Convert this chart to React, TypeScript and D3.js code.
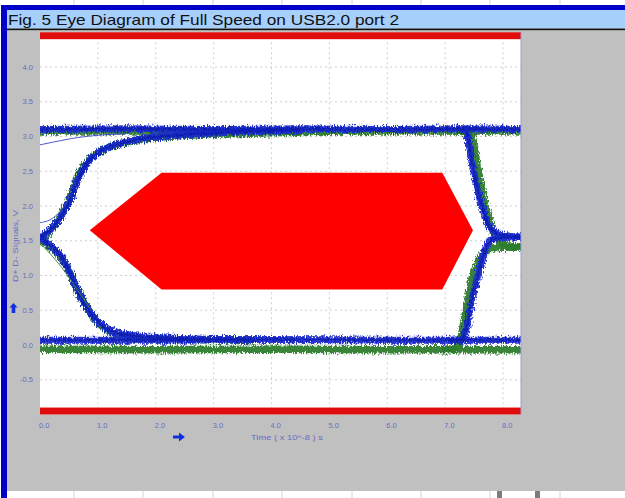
import React from 'react';
import * as d3 from 'd3';

type P = [number, number];

// Axis ticks
const xTicks = [0, 1, 2, 3, 4, 5, 6, 7, 8];
const xTickLabels = ['0.0', '1.0', '2.0', '3.0', '4.0', '5.0', '6.0', '7.0', '8.0'];
const yTicks = [-0.5, 0, 0.5, 1, 1.5, 2, 2.5, 3, 3.5, 4];
const yTickLabels = ['-0.5', '0.0', '0.5', '1.0', '1.5', '2.0', '2.5', '3.0', '3.5', '4.0'];

// Eye mask (time x1e-8 s, volts)
const maskPoints: P[] = [[0.86, 1.65], [2.1, 2.48], [6.95, 2.48], [7.48, 1.65], [6.95, 0.8], [2.1, 0.8]];
// Limit bands (volts)
const limitBands: P[] = [[4.4, 4.5], [-1.0, -0.9]];

// Green traces
const greenTop: P[] = [[0, 3.08], [2, 3.08], [4, 3.07], [6, 3.08], [8.31, 3.08]];
const greenBottom: P[] = [[0, -0.06], [2, -0.07], [4, -0.06], [6, -0.07], [8.31, -0.07]];
const greenRiseLeft: P[] = [[0, 1.5], [0.15, 1.62], [0.33, 1.82], [0.5, 2.08], [0.67, 2.45], [0.84, 2.66], [1.07, 2.8], [1.41, 2.9], [1.83, 2.97], [2.4, 3.01], [3.26, 3.04], [4.47, 3.06]];
const greenFallLeft: P[] = [[0, 1.5], [0.19, 1.4], [0.37, 1.25], [0.5, 1.07], [0.62, 0.84], [0.76, 0.61], [0.93, 0.39], [1.14, 0.23], [1.38, 0.14], [1.84, 0.1], [2.62, 0.08], [3.66, 0.07]];
const greenFallRight: P[] = [[7.2, 3.08], [7.43, 3.07], [7.48, 2.95], [7.55, 2.59], [7.62, 2.3], [7.69, 2.01], [7.76, 1.8], [7.85, 1.58], [7.98, 1.47], [8.15, 1.42], [8.31, 1.41]];
const greenRiseRight: P[] = [[7.0, -0.06], [7.17, -0.05], [7.26, 0.07], [7.36, 0.5], [7.46, 0.94], [7.57, 1.19], [7.69, 1.34], [7.86, 1.4], [8.31, 1.41]];

// Blue traces
const blueTop: P[] = [[0, 3.1], [1.5, 3.11], [3, 3.1], [4.5, 3.11], [6, 3.1], [7.3, 3.11], [8.31, 3.1]];
const blueBottom: P[] = [[0, 0.07], [2, 0.07], [4, 0.08], [6, 0.07], [8.31, 0.07]];
const blueRiseLeft: P[] = [[0, 1.55], [0.17, 1.65], [0.35, 1.83], [0.52, 2.09], [0.69, 2.45], [0.86, 2.66], [1.09, 2.81], [1.43, 2.91], [1.85, 2.98], [2.42, 3.02], [3.28, 3.06], [4.49, 3.09]];
const blueFallLeft: P[] = [[0, 1.54], [0.17, 1.44], [0.35, 1.29], [0.48, 1.11], [0.6, 0.88], [0.73, 0.65], [0.9, 0.43], [1.11, 0.26], [1.35, 0.17], [1.81, 0.12], [2.59, 0.09], [3.63, 0.07]];
const blueFallRight: P[] = [[7.2, 3.1], [7.35, 3.1], [7.4, 2.95], [7.47, 2.59], [7.54, 2.3], [7.6, 2.09], [7.67, 1.91], [7.74, 1.73], [7.85, 1.63], [8.0, 1.58], [8.31, 1.55]];
const blueRiseRight: P[] = [[7.1, 0.07], [7.29, 0.08], [7.36, 0.22], [7.46, 0.65], [7.55, 0.94], [7.64, 1.22], [7.72, 1.44], [7.86, 1.53], [8.07, 1.55], [8.31, 1.55]];

// Thin single sweeps
const thinBlueA: P[] = [[0, 2.88], [0.35, 2.94], [0.69, 2.99], [1.04, 3.02], [1.5, 3.04]];
const thinBlueB: P[] = [[0, 1.76], [0.17, 1.8], [0.29, 1.87], [0.4, 1.97], [0.48, 2.09]];
const thinGreenA: P[] = [[0.03, 1.44], [0.21, 1.28], [0.38, 1.11], [0.55, 0.91], [0.73, 0.69], [0.86, 0.53]];

const sheetCols = [74, 143, 213, 282, 352, 421, 490, 560];

export default function App() {
  const W = 625, H = 498;
  const x = d3.scaleLinear().domain([0, 8.31]).range([40, 521]);
  const y = d3.scaleLinear().domain([-1, 4.5]).range([414.5, 32.25]);
  const line = d3.line<P>().x(d => x(d[0])).y(d => y(d[1])).curve(d3.curveMonotoneX);
  const poly = d3.line<P>().x(d => x(d[0])).y(d => y(d[1])).curve(d3.curveLinearClosed);

  const plotTop = y(4.5), plotBottom = y(-1);
  const greenThick = [greenTop, greenBottom, greenRiseLeft, greenFallLeft, greenFallRight, greenRiseRight];
  const blueThick = [blueTop, blueBottom, blueRiseLeft, blueFallLeft, blueFallRight, blueRiseRight];
  const tickColor = '#6c6cc4';
  const font = 'Liberation Sans, Arial, sans-serif';

  return (
    <div style={{ position: 'fixed', left: 0, top: 0 }}>
      <svg width={W} height={H} style={{ display: 'block' }}>
        <defs>
          <filter id="noise" filterUnits="userSpaceOnUse" x="0" y="0" width={W} height={H}>
            <feTurbulence type="fractalNoise" baseFrequency="0.9 0.35" numOctaves="2" seed="4" result="t" />
            <feDisplacementMap in="SourceGraphic" in2="t" scale="7" xChannelSelector="R" yChannelSelector="G" result="d" />
            <feGaussianBlur in="d" stdDeviation="0.4" />
          </filter>
          <clipPath id="plotClip">
            <rect x={40} y={plotTop} width={481} height={plotBottom - plotTop} />
          </clipPath>
        </defs>
        {/* spreadsheet background */}
        <rect x={0} y={0} width={W} height={H} fill="#ffffff" />
        {sheetCols.map(c => (
          <line key={'c' + c} x1={c} x2={c} y1={0} y2={H} stroke="#d4d4d4" strokeWidth={1} />
        ))}
        <rect x={1} y={5} width={6} height={H - 5} fill="#0000c8" />
        <rect x={1} y={5} width={W} height={5} fill="#0000c8" />
        <rect x={7} y={10} width={W - 7} height={18.5} fill="#a6cffc" />
        <rect x={7} y={28.5} width={W - 7} height={2} fill="#111111" />
        <text x={8} y={24.5} fontFamily={font} fontSize={15} fill="#111" textLength={391} lengthAdjust="spacingAndGlyphs">
          Fig. 5 Eye Diagram of Full Speed on USB2.0 port 2
        </text>
        <rect x={7} y={30.5} width={W - 7} height={460.5} fill="#c0c0c0" />
        <rect x={497} y={491} width={5} height={7} fill="#7c7c7c" />
        <rect x={535} y={491} width={5} height={7} fill="#7c7c7c" />

        {/* plot area */}
        <rect x={40} y={plotTop} width={481} height={plotBottom - plotTop} fill="#ffffff" />
        {xTicks.slice(1).map(t => (
          <line key={'gx' + t} x1={x(t)} x2={x(t)} y1={plotTop} y2={plotBottom} stroke="#c4c4c4" strokeWidth={0.8} strokeDasharray="2,3" />
        ))}
        {yTicks.map(v => (
          <line key={'gy' + v} x1={40} x2={521} y1={y(v)} y2={y(v)} stroke="#c4c4c4" strokeWidth={0.8} strokeDasharray="2,3" />
        ))}
        {limitBands.map((b, i) => (
          <rect key={'lb' + i} x={40} y={y(b[1])} width={481} height={y(b[0]) - y(b[1])} fill="#e00d0d" />
        ))}
        <path d={poly(maskPoints) || ''} fill="#ff0000" />

        <g clipPath="url(#plotClip)">
          <g filter="url(#noise)">
            {greenThick.map((d, i) => (
              <path key={'g' + i} d={line(d) || ''} fill="none" stroke="#2f7d2f" strokeWidth={7.5} strokeOpacity={0.95} strokeLinecap="round" />
            ))}
            {blueThick.map((d, i) => (
              <path key={'b' + i} d={line(d) || ''} fill="none" stroke="#1c2ccc" strokeWidth={7} strokeOpacity={0.95} strokeLinecap="round" />
            ))}
            {blueThick.map((d, i) => (
              <path key={'bc' + i} d={line(d) || ''} fill="none" stroke="#0a18a8" strokeWidth={2.5} strokeOpacity={0.7} />
            ))}
          </g>
          <path d={line(thinBlueA) || ''} fill="none" stroke="#3a48c8" strokeWidth={0.9} />
          <path d={line(thinBlueB) || ''} fill="none" stroke="#3a48c8" strokeWidth={0.9} />
          <path d={line(thinGreenA) || ''} fill="none" stroke="#3c8a3c" strokeWidth={0.9} />
        </g>
        <line x1={521} x2={521} y1={plotTop} y2={plotBottom} stroke="#9a9ae0" strokeWidth={1} />

        {/* y axis labels */}
        {yTicks.map((v, i) => (
          <text key={'yl' + v} x={33} y={y(v)} dy="0.35em" textAnchor="end" fontFamily={font} fontSize={7.5} fill={tickColor}>
            {yTickLabels[i]}
          </text>
        ))}
        <text transform="translate(18,246) rotate(-90)" textAnchor="middle" fontFamily={font} fontSize={8} fill={tickColor} textLength={72} lengthAdjust="spacingAndGlyphs">
          D+ D- Signals, V
        </text>
        <path d="M13.5,303 L17.5,307.5 L15.3,307.5 L15.3,313 L11.7,313 L11.7,307.5 L9.5,307.5 Z" fill="#1030e0" />

        {/* x axis labels */}
        {xTicks.map((t, i) => (
          <text key={'xl' + t} x={x(t) - 1} y={428} textAnchor="start" fontFamily={font} fontSize={7.5} fill={tickColor}>
            {xTickLabels[i]}
          </text>
        ))}
        <path d="M173,435.5 L179,435.5 L179,432.5 L185,437 L179,441.5 L179,438.5 L173,438.5 Z" fill="#1030e0" />
        <text x={251} y={440} fontFamily={font} fontSize={7.5} fill={tickColor} textLength={72} lengthAdjust="spacingAndGlyphs">
          Time ( x 10^-8 ) s
        </text>
      </svg>
    </div>
  );
}
